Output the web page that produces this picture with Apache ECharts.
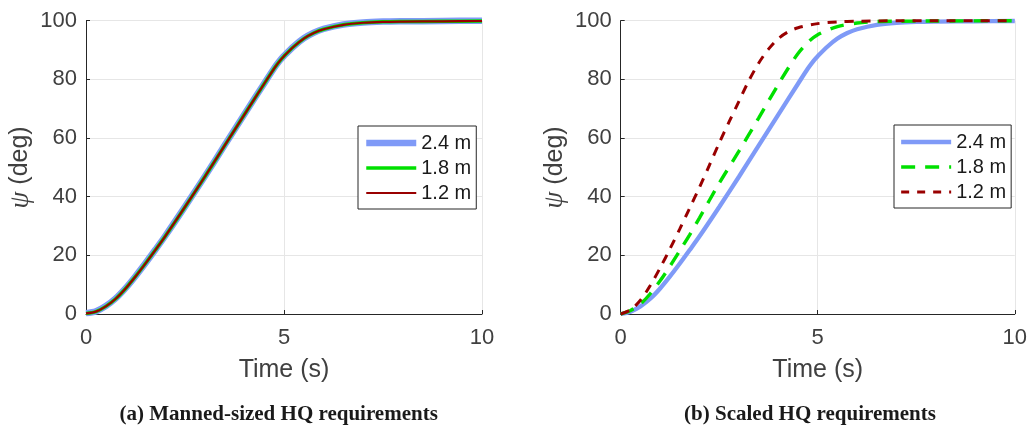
<!DOCTYPE html>
<html>
<head>
<meta charset="utf-8">
<script src="https://cdn.jsdelivr.net/npm/echarts@6/dist/echarts.min.js"></script>
<style>html,body{margin:0;padding:0;background:#fff}#c{width:1030px;height:429px}</style>
</head>
<body>
<div id="c"></div>
<script>
// ---- data ----
const xTicks = [0, 5, 10];
const yTicks = [0, 20, 40, 60, 80, 100];

// (a) Manned-sized HQ requirements: the three curves overlap
const tManned = [0,0.25,0.5,0.75,1,1.25,1.5,1.75,2,2.5,3,3.5,4,4.5,4.75,4.9,5,5.25,5.5,5.75,6,6.5,7,7.5,8,9,10];
const manned24 = [0.3,0.9,2.7,5.3,8.8,12.9,17.3,21.9,26.6,36.6,46.9,57.5,68.1,78.6,83.8,86.5,88.0,91.3,94.0,95.9,97.2,98.7,99.4,99.7,99.8,99.9,100];
const manned18 = [0.2,0.8,2.6,5.2,8.7,12.8,17.2,21.8,26.5,36.5,46.8,57.4,68.0,78.5,83.7,86.4,87.9,91.2,93.9,95.8,97.1,98.6,99.3,99.6,99.7,99.8,99.9];
const manned12 = [0.2,0.8,2.6,5.2,8.7,12.8,17.2,21.8,26.5,36.5,46.8,57.4,68.0,78.5,83.7,86.4,87.9,91.2,93.9,95.8,97.1,98.6,99.3,99.6,99.7,99.8,99.9];

// (b) Scaled HQ requirements
const tScaled24 = [0,0.25,0.5,0.75,1,1.25,1.5,1.75,2,2.5,3,3.5,4,4.5,4.75,4.9,5,5.25,5.5,5.75,6,6.5,7,7.5,8,9,10];
const scaled24 = [0,0.8,2.6,5.2,8.7,12.8,17.2,21.8,26.5,36.5,46.8,57.4,68.0,78.5,83.7,86.4,87.9,91.2,93.9,95.8,97.1,98.6,99.3,99.6,99.7,99.8,99.9];
const tScaled18 = [0,0.25,0.5,0.75,1,1.25,1.5,1.75,2,2.5,3,3.5,4,4.25,4.5,4.75,5,5.5,6,6.5,7,8,10];
const scaled18 = [0,1.2,3.4,6.9,11.3,16.3,21.6,27.0,32.8,44.6,55.5,66.8,78.3,83.8,88.8,92.6,95.2,98.0,99.2,99.7,99.8,99.9,100];
const tScaled12 = [0,0.25,0.5,0.75,1,1.25,1.5,1.75,2,2.25,2.5,2.75,3,3.25,3.5,3.75,4,4.25,4.5,5,5.5,6,7,8,10];
const scaled12 = [0,1.4,4.7,9.7,15.7,22.2,29.0,36.1,43.2,50.7,58.3,65.5,72.5,79.5,85.5,90.3,93.9,96.2,97.6,99.0,99.6,99.8,100,100,100];

const legendNames = ['2.4 m', '1.8 m', '1.2 m'];
// ------------------------------------

function zip(t, v) { return t.map((x, i) => [x, v[i]]); }

const AX = '#262626';
const TXT = '#404040';
const FONT = 'Liberation Sans';
const BLUE = '#7f9af7', GREEN = '#00e000', RED = '#990000';

function xAxisCfg(gi) {
  return {
    gridIndex: gi, type: 'value', min: 0, max: 10, interval: 5,
    name: 'Time (s)', nameLocation: 'middle', nameGap: 44,
    nameTextStyle: { fontFamily: FONT, fontSize: 25, color: TXT },
    axisLine: { show: true, onZero: false, lineStyle: { color: AX, width: 1 } },
    axisTick: { show: true, inside: true, length: 4, lineStyle: { color: AX } },
    axisLabel: { fontFamily: FONT, fontSize: 22, color: TXT, margin: 13 },
    splitLine: { show: true, lineStyle: { color: '#e6e6e6', width: 1 } }
  };
}
function yAxisCfg(gi) {
  return {
    gridIndex: gi, type: 'value', min: 0, max: 100, interval: 20,
    name: '{i|ψ} (deg)', nameLocation: 'middle', nameGap: 52,
    nameTextStyle: { fontFamily: FONT, fontSize: 25, color: TXT,
      rich: { i: { fontFamily: 'Liberation Serif', fontStyle: 'italic', fontSize: 27, color: TXT } } },
    axisLine: { show: true, onZero: false, lineStyle: { color: AX, width: 1 } },
    axisTick: { show: true, inside: true, length: 4, lineStyle: { color: AX } },
    axisLabel: { fontFamily: FONT, fontSize: 22, color: TXT, margin: 9 },
    splitLine: { show: true, lineStyle: { color: '#e6e6e6', width: 1 } }
  };
}
function lineSeries(id, gi, data, color, width, dash) {
  return {
    name: id, type: 'line', xAxisIndex: gi, yAxisIndex: gi, data: data,
    smooth: 0.3, symbol: 'none', animation: false, clip: false,
    itemStyle: { color: color },
    lineStyle: { color: color, width: width, type: dash || 'solid', cap: 'butt' }
  };
}
function legendCfg(left, top, ids, styles) {
  return {
    orient: 'vertical', left: left, top: top,
    itemWidth: 50, itemHeight: 14, itemGap: 5,
    padding: [7, 5, 6, 5],
    borderColor: AX, borderWidth: 1, backgroundColor: '#fff',
    textStyle: { fontFamily: FONT, fontSize: 20, color: '#1a1a1a' },
    selectedMode: false,
    formatter: function (n) { return legendNames[ids.indexOf(n)]; },
    data: ids.map((id, i) => ({ name: id, lineStyle: styles[i],
      itemStyle: { opacity: 0, borderWidth: 0 } }))
  };
}

const chart = echarts.init(document.getElementById('c'), null, { renderer: 'canvas' });
chart.setOption({
  backgroundColor: '#fff',
  animation: false,
  grid: [
    { left: 86, top: 20.7, width: 396, height: 293.3 },
    { left: 620.7, top: 20.7, width: 396.6, height: 293.3 }
  ],
  xAxis: [xAxisCfg(0), xAxisCfg(1)],
  yAxis: [yAxisCfg(0), yAxisCfg(1)],
  legend: [
    legendCfg(358, 126, ['a24', 'a18', 'a12'], [
      { color: BLUE, width: 6.5, type: 'solid' },
      { color: GREEN, width: 3.5, type: 'solid' },
      { color: RED, width: 2.2, type: 'solid' }
    ]),
    legendCfg(894, 125, ['b24', 'b18', 'b12'], [
      { color: BLUE, width: 4.3, type: 'solid' },
      { color: GREEN, width: 3.4, type: [14, 10] },
      { color: RED, width: 3, type: [8, 8] }
    ])
  ],
  series: [
    lineSeries('a24', 0, zip(tManned, manned24), BLUE, 6.5),
    lineSeries('a18', 0, zip(tManned, manned18), GREEN, 3.5),
    lineSeries('a12', 0, zip(tManned, manned12), RED, 2.2),
    lineSeries('b24', 1, zip(tScaled24, scaled24), BLUE, 4.3),
    lineSeries('b18', 1, zip(tScaled18, scaled18), GREEN, 3.4, [14, 10]),
    lineSeries('b12', 1, zip(tScaled12, scaled12), RED, 3, [9, 8])
  ],
  graphic: [
    { type: 'text', x: 278.7, y: 415, silent: true,
      style: { text: '(a) Manned-sized HQ requirements', align: 'center', verticalAlign: 'middle',
        font: 'bold 21px "Liberation Serif"', fill: '#1a1a1a' } },
    { type: 'text', x: 810, y: 415, silent: true,
      style: { text: '(b) Scaled HQ requirements', align: 'center', verticalAlign: 'middle',
        font: 'bold 21px "Liberation Serif"', fill: '#1a1a1a' } }
  ]
});
</script>
</body>
</html>
